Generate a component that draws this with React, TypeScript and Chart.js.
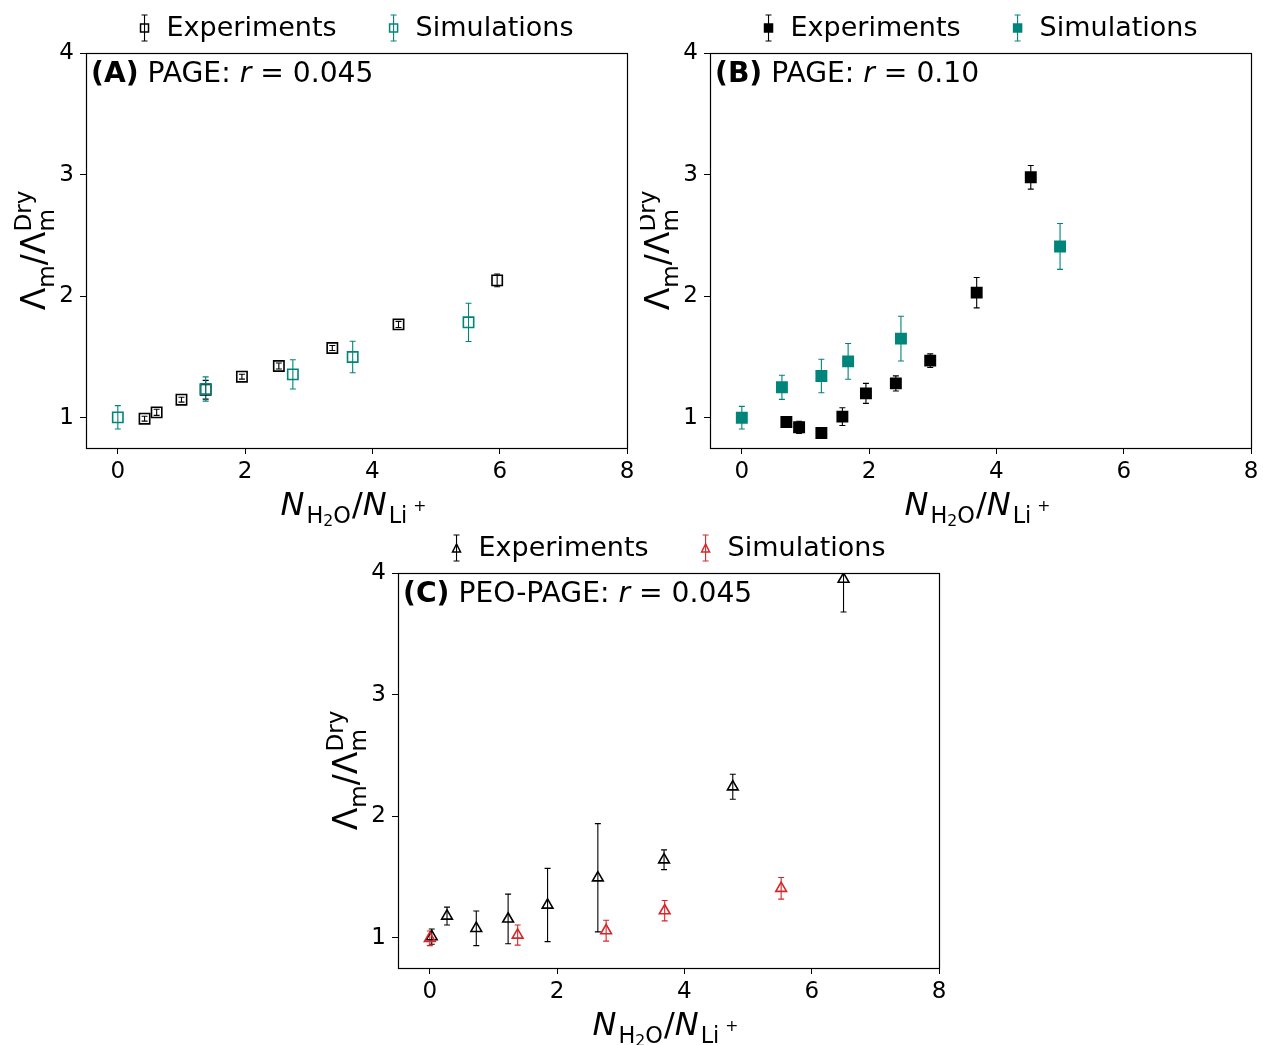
import React, { useEffect, useRef } from 'react';
import { Chart, registerables } from 'chart.js';

Chart.register(...registerables);

const FONT = '"DejaVu Sans", sans-serif';
const TEAL = '#00857a';
const RED = '#d62728';
const BLACK = '#000000';

const xTickValues = [0, 2, 4, 6, 8];
const yTickValues = [1, 2, 3, 4];
const X_MIN = -0.5;
const X_MAX = 8;
const Y_MIN = 0.753;
const Y_MAX = 4;

const legendLabels = ['Experiments', 'Simulations'];

// Panel A: PAGE r = 0.045
const aExpX = [0.42, 0.61, 1.0, 1.38, 1.95, 2.53, 3.37, 4.41, 5.96];
const aExpY = [0.994, 1.046, 1.15, 1.232, 1.339, 1.427, 1.575, 1.769, 2.131];
const aExpErr = [0.02, 0.025, 0.02, 0.077, 0.02, 0.025, 0.02, 0.025, 0.052];
const aSimX = [0, 1.38, 2.75, 3.69, 5.51];
const aSimY = [1.005, 1.238, 1.358, 1.501, 1.786];
const aSimErr = [0.096, 0.1, 0.12, 0.13, 0.157];

// Panel B: PAGE r = 0.10
const bExpX = [0.7, 0.9, 1.25, 1.58, 1.95, 2.42, 2.96, 3.69, 4.54];
const bExpY = [0.967, 0.923, 0.876, 1.011, 1.202, 1.284, 1.471, 2.03, 2.978];
const bExpErr = [0.02, 0.05, 0.0, 0.073, 0.082, 0.062, 0.056, 0.125, 0.097];
const bSimX = [0, 0.63, 1.25, 1.67, 2.5, 5.0];
const bSimY = [1.002, 1.252, 1.345, 1.465, 1.652, 2.41];
const bSimErr = [0.093, 0.099, 0.138, 0.147, 0.184, 0.189];

// Panel C: PEO-PAGE r = 0.045
const cExpX = [0.03, 0.27, 0.73, 1.23, 1.85, 2.64, 3.68, 4.76, 6.5];
const cExpY = [1.011, 1.18, 1.079, 1.156, 1.271, 1.495, 1.643, 2.243, 3.95];
const cExpErr = [0.063, 0.073, 0.142, 0.204, 0.301, 0.445, 0.081, 0.103, 0.27];
const cSimX = [0, 1.38, 2.77, 3.69, 5.52];
const cSimY = [0.997, 1.024, 1.06, 1.224, 1.408];
const cSimErr = [0.06, 0.083, 0.086, 0.084, 0.089];

// g: extra gap in px after the segment
type Seg = { t: string; st?: string; k?: number; dy?: number; g?: number; alt?: { t: string; dy: number } };

function fontStr(st: string, size: number) {
  return `${st} ${size}px ${FONT}`;
}

function segWidth(ctx: CanvasRenderingContext2D, s: Seg, S: number) {
  const sz = S * (s.k ?? 1);
  ctx.font = fontStr(s.st ?? 'normal', sz);
  let w = ctx.measureText(s.t).width;
  if (s.alt) w = Math.max(w, ctx.measureText(s.alt.t).width);
  return w + (s.g ?? 0);
}

function drawSegs(
  ctx: CanvasRenderingContext2D,
  segs: Seg[],
  x: number,
  y: number,
  S: number,
  align: 'left' | 'center',
  shift = 0
) {
  let total = 0;
  for (const s of segs) total += segWidth(ctx, s, S);
  let cx = (align === 'center' ? x - total / 2 : x) + shift;
  ctx.textAlign = 'left';
  ctx.textBaseline = 'alphabetic';
  ctx.fillStyle = '#000';
  for (const s of segs) {
    const sz = S * (s.k ?? 1);
    const w = segWidth(ctx, s, S);
    ctx.font = fontStr(s.st ?? 'normal', sz);
    ctx.fillText(s.t, cx, y + (s.dy ?? 0) * S);
    if (s.alt) ctx.fillText(s.alt.t, cx, y + s.alt.dy * S);
    cx += w;
  }
}

const xTitle: Seg[] = [
  { t: 'N', st: 'italic', g: 2 },
  { t: 'H', k: 0.7, dy: 0.24 },
  { t: '2', k: 0.49, dy: 0.34 },
  { t: 'O', k: 0.7, dy: 0.24, g: 1 },
  { t: '/' },
  { t: 'N', st: 'italic', g: 2 },
  { t: 'Li', k: 0.7, dy: 0.24, g: 6 },
  { t: '+', k: 0.49, dy: -0.13 },
];

const yTitle: Seg[] = [
  { t: 'Λ' },
  { t: 'm', k: 0.7, dy: 0.27 },
  { t: '/' },
  { t: 'Λ' },
  { t: 'm', k: 0.7, dy: 0.27, alt: { t: 'Dry', dy: -0.42 } },
];

type Entry = { label: string; color: string; marker: 'square' | 'triangle'; filled: boolean };

function drawMarker(ctx: CanvasRenderingContext2D, e: Entry, x: number, y: number, size: number) {
  ctx.beginPath();
  if (e.marker === 'square') {
    ctx.rect(x - size / 2, y - size / 2, size, size);
  } else {
    const h = size;
    ctx.moveTo(x, y - h / 2);
    ctx.lineTo(x - size / 2, y + h / 2);
    ctx.lineTo(x + size / 2, y + h / 2);
    ctx.closePath();
  }
  ctx.lineWidth = 1.5;
  ctx.strokeStyle = e.color;
  if (e.filled) {
    ctx.fillStyle = e.color;
    ctx.fill();
  }
  ctx.stroke();
}

function drawGlyph(ctx: CanvasRenderingContext2D, e: Entry, x: number, y: number) {
  ctx.strokeStyle = e.color;
  ctx.lineWidth = 1.1;
  ctx.beginPath();
  ctx.moveTo(x, y - 13);
  ctx.lineTo(x, y + 13);
  ctx.moveTo(x - 3, y - 13);
  ctx.lineTo(x + 3, y - 13);
  ctx.moveTo(x - 3, y + 13);
  ctx.lineTo(x + 3, y + 13);
  ctx.stroke();
  drawMarker(ctx, e, x, y, 8);
}

const errorBarPlugin = {
  id: 'errorBars',
  beforeDatasetsDraw(chart: any) {
    const ctx: CanvasRenderingContext2D = chart.ctx;
    const ys = chart.scales.y;
    const a = chart.chartArea;
    ctx.save();
    ctx.beginPath();
    ctx.rect(a.left, a.top, a.right - a.left, a.bottom - a.top);
    ctx.clip();
    chart.data.datasets.forEach((ds: any, i: number) => {
      const errs: number[] = ds.errors;
      if (!errs) return;
      const meta = chart.getDatasetMeta(i);
      ctx.strokeStyle = ds.borderColor;
      ctx.lineWidth = 1.1;
      meta.data.forEach((pt: any, j: number) => {
        const e = errs[j];
        if (!e) return;
        const v = ds.data[j].y;
        const y1 = ys.getPixelForValue(v + e);
        const y2 = ys.getPixelForValue(v - e);
        const x = pt.x;
        ctx.beginPath();
        ctx.moveTo(x, y1);
        ctx.lineTo(x, y2);
        ctx.moveTo(x - 3, y1);
        ctx.lineTo(x + 3, y1);
        ctx.moveTo(x - 3, y2);
        ctx.lineTo(x + 3, y2);
        ctx.stroke();
      });
    });
    ctx.restore();
  },
};

type PanelCfg = {
  id: string;
  left: number;
  top: number;
  w: number;
  h: number;
  padding: { left: number; top: number; right: number; bottom: number };
  label: Seg[];
  entries: Entry[];
  series: { x: number[]; y: number[]; err: number[] }[];
};

function makeDecor(cfg: PanelCfg) {
  return {
    id: 'decor' + cfg.id,
    afterDraw(chart: any) {
      const ctx: CanvasRenderingContext2D = chart.ctx;
      const a = chart.chartArea;
      ctx.save();
      // frame
      ctx.strokeStyle = '#000';
      ctx.lineWidth = 1.2;
      ctx.strokeRect(Math.round(a.left) + 0.5, Math.round(a.top) + 0.5, Math.round(a.right - a.left), Math.round(a.bottom - a.top));
      // panel label
      drawSegs(ctx, cfg.label, a.left + 5, a.top + 29, 28.2, 'left');
      // legend
      const LS = 27;
      ctx.font = fontStr('normal', LS);
      const w1 = ctx.measureText(cfg.entries[0].label).width;
      const w2 = ctx.measureText(cfg.entries[1].label).width;
      const total = 5 + 22 + w1 + 57 + 22 + w2;
      const cxm = (a.left + a.right) / 2;
      const cy = a.top - 25;
      let gx = cxm - total / 2 + 5;
      cfg.entries.forEach((e, i) => {
        drawGlyph(ctx, e, gx, cy);
        ctx.font = fontStr('normal', LS);
        ctx.fillStyle = '#000';
        ctx.textAlign = 'left';
        ctx.textBaseline = 'middle';
        ctx.fillText(e.label, gx + 22, cy + 1);
        gx += 22 + (i === 0 ? w1 : w2) + 57;
      });
      // axis titles
      drawSegs(ctx, xTitle, (a.left + a.right) / 2, a.bottom + 67, 32, 'center', -3);
      ctx.save();
      ctx.translate(a.left - 41, (a.top + a.bottom) / 2);
      ctx.rotate(-Math.PI / 2);
      drawSegs(ctx, yTitle, 0, 0, 33, 'center');
      ctx.restore();
      ctx.restore();
    },
  };
}

function Panel({ cfg }: { cfg: PanelCfg }) {
  const ref = useRef<HTMLCanvasElement>(null);
  useEffect(() => {
    if (!ref.current) return;
    const datasets = cfg.series.map((s, i) => {
      const e = cfg.entries[i];
      return {
        label: e.label,
        data: s.x.map((x, j) => ({ x, y: s.y[j] })),
        errors: s.err,
        order: 2 - i,
        pointStyle: e.marker === 'square' ? 'rect' : 'triangle',
        pointRadius: e.marker === 'square' ? 7.3 : 6.2,
        borderColor: e.color,
        backgroundColor: e.filled ? e.color : 'rgba(0,0,0,0)',
        pointBorderWidth: 1.6,
        borderWidth: 1.6,
        showLine: false,
      } as any;
    });
    const tickFont = { size: 23, family: FONT };
    const chart = new Chart(ref.current, {
      type: 'scatter',
      data: { datasets },
      options: {
        animation: false,
        responsive: false,
        events: [],
        layout: { padding: cfg.padding },
        plugins: { legend: { display: false }, tooltip: { enabled: false } },
        scales: {
          x: {
            type: 'linear',
            min: X_MIN,
            max: X_MAX,
            afterBuildTicks: (s: any) => {
              s.ticks = xTickValues.map((v) => ({ value: v }));
            },
            afterFit: (s: any) => {
              s.height = 40;
            },
            grid: { display: true, drawOnChartArea: false, drawTicks: true, tickLength: 6, color: '#000', lineWidth: 1 },
            border: { display: false },
            ticks: { font: tickFont, color: '#000', padding: 4, maxRotation: 0, autoSkip: false, callback: (v: any) => String(v) },
          },
          y: {
            type: 'linear',
            min: Y_MIN,
            max: Y_MAX,
            afterBuildTicks: (s: any) => {
              s.ticks = yTickValues.map((v) => ({ value: v }));
            },
            afterFit: (s: any) => {
              s.width = 60;
            },
            grid: { display: true, drawOnChartArea: false, drawTicks: true, tickLength: 6, color: '#000', lineWidth: 1 },
            border: { display: false },
            ticks: { font: tickFont, color: '#000', padding: 6, autoSkip: false, callback: (v: any) => String(v) },
          },
        },
      } as any,
      plugins: [errorBarPlugin, makeDecor(cfg)],
    });
    return () => chart.destroy();
  }, []);
  return (
    <canvas
      ref={ref}
      width={cfg.w}
      height={cfg.h}
      style={{ position: 'absolute', left: cfg.left, top: cfg.top, width: cfg.w, height: cfg.h }}
    />
  );
}

const panels: PanelCfg[] = [
  {
    id: 'A',
    left: 0,
    top: 0,
    w: 640,
    h: 530,
    padding: { left: 26, top: 53, right: 13, bottom: 42 },
    label: [{ t: '(A)', st: 'bold' }, { t: ' PAGE: ' }, { t: 'r', st: 'italic' }, { t: ' = 0.045' }],
    entries: [
      { label: legendLabels[0], color: BLACK, marker: 'square', filled: false },
      { label: legendLabels[1], color: TEAL, marker: 'square', filled: false },
    ],
    series: [
      { x: aExpX, y: aExpY, err: aExpErr },
      { x: aSimX, y: aSimY, err: aSimErr },
    ],
  },
  {
    id: 'B',
    left: 640,
    top: 0,
    w: 623,
    h: 530,
    padding: { left: 10, top: 53, right: 12, bottom: 42 },
    label: [{ t: '(B)', st: 'bold' }, { t: ' PAGE: ' }, { t: 'r', st: 'italic' }, { t: ' = 0.10' }],
    entries: [
      { label: legendLabels[0], color: BLACK, marker: 'square', filled: true },
      { label: legendLabels[1], color: TEAL, marker: 'square', filled: true },
    ],
    series: [
      { x: bExpX, y: bExpY, err: bExpErr },
      { x: bSimX, y: bSimY, err: bSimErr },
    ],
  },
  {
    id: 'C',
    left: 310,
    top: 530,
    w: 650,
    h: 515,
    padding: { left: 28, top: 43, right: 21, bottom: 37 },
    label: [{ t: '(C)', st: 'bold' }, { t: ' PEO-PAGE: ' }, { t: 'r', st: 'italic' }, { t: ' = 0.045' }],
    entries: [
      { label: legendLabels[0], color: BLACK, marker: 'triangle', filled: false },
      { label: legendLabels[1], color: RED, marker: 'triangle', filled: false },
    ],
    series: [
      { x: cExpX, y: cExpY, err: cExpErr },
      { x: cSimX, y: cSimY, err: cSimErr },
    ],
  },
];

export default function App() {
  return (
    <div style={{ position: 'absolute', left: 0, top: 0, width: 1263, height: 1045, background: '#fff' }}>
      {panels.map((p) => (
        <Panel key={p.id} cfg={p} />
      ))}
    </div>
  );
}
